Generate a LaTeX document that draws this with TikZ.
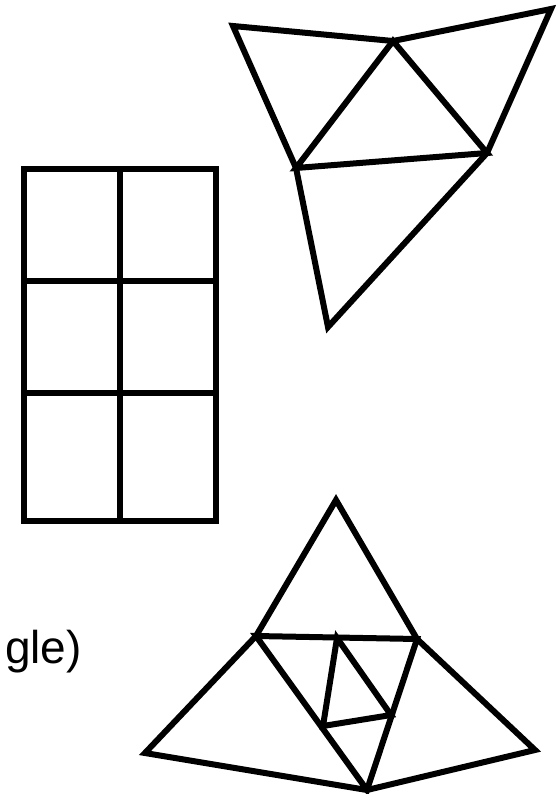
\documentclass[tikz,border=0pt]{standalone}
\usepackage{fontspec}
\setmainfont{Liberation Sans}

\tikzset{stroke/.style={line width = 6pt}}

\begin{document}
\begin{tikzpicture}[x = 1pt, y = -1pt]
\useasboundingbox (0,0) rectangle (555,794);

% top shape
\coordinate (a1) at (233,26);
\coordinate (a2) at (393,41);
\coordinate (a3) at (551,9);
\coordinate (a4) at (487,153);
\coordinate (a5) at (296,168);
\coordinate (a6) at (328,327);
\draw [stroke] (a1) -- (a2) -- (a3) -- (a4) -- (a6) -- (a5) -- cycle;
\draw [stroke] (a5) -- (a2) -- (a4) -- cycle;

% grid
\coordinate (g1) at (24,169);
\coordinate (g2) at (216,521);
\draw [stroke] (g1) rectangle (g2);
\draw [stroke] (120,169) -- (120,521);
\draw [stroke] (24,281) -- (216,281);
\draw [stroke] (24,393) -- (216,393);

% bottom shape
\coordinate (b1) at (336,500);
\coordinate (b2) at (256,636);
\coordinate (b3) at (417,639);
\coordinate (b4) at (145,753);
\coordinate (b5) at (535,750);
\coordinate (b6) at (367,790);
\coordinate (b7) at (337,638);
\coordinate (b8) at (391,715);
\coordinate (b9) at (323,726);
\draw [stroke] (b1) -- (b3) -- (b5) -- (b6) -- (b4) -- (b2) -- cycle;
\draw [stroke] (b2) -- (b3) -- (b6) -- cycle;
\draw [stroke] (b7) -- (b8) -- (b9) -- cycle;

\node (lbl) [anchor = base east, inner sep = 0pt, font = \fontsize{46}{50}\selectfont] at (82,663) {gle)};
\end{tikzpicture}
\end{document}
